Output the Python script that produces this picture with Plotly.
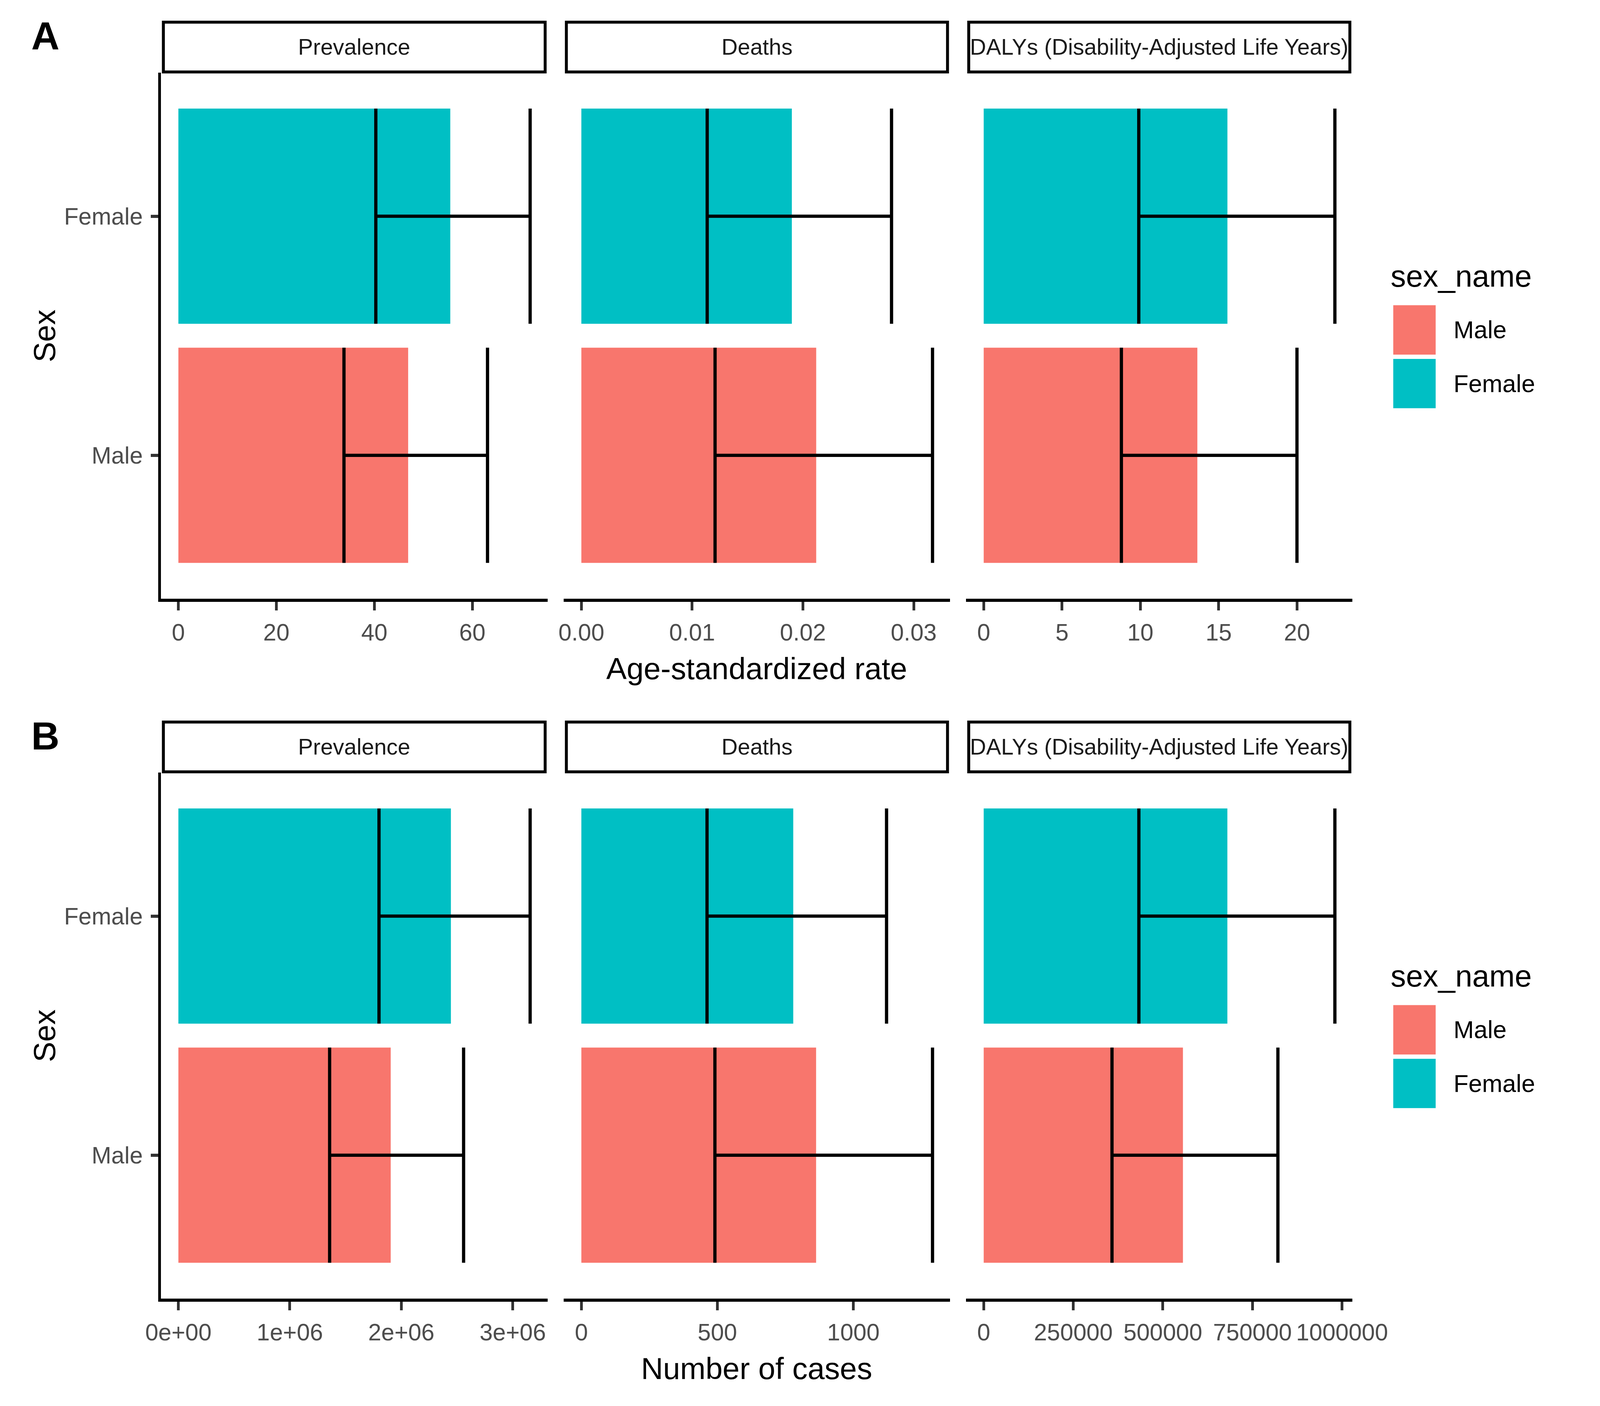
import plotly.graph_objects as go

# data
measures = ["Prevalence", "Deaths", "DALYs (Disability-Adjusted Life Years)"]
sexes = ["Male", "Female"]

# panel A: age-standardized rates (Prevalence, Deaths, DALYs)
rate_val_male = [46.9, 0.0212, 13.64]
rate_val_female = [55.5, 0.0190, 15.56]
rate_low_male = [33.8, 0.01207, 8.79]
rate_low_female = [40.3, 0.01136, 9.90]
rate_up_male = [63.1, 0.0317, 20.0]
rate_up_female = [71.8, 0.0280, 22.42]

# panel B: number of cases
num_val_male = [1.905e6, 863, 556000]
num_val_female = [2.445e6, 779, 680000]
num_low_male = [1.357e6, 491, 358000]
num_low_female = [1.80e6, 462, 433000]
num_up_male = [2.559e6, 1291, 821000]
num_up_female = [3.156e6, 1122, 980000]

# x tick labels per panel
rate_tickvals = [[0, 20, 40, 60], [0, 0.01, 0.02, 0.03], [0, 5, 10, 15, 20]]
rate_ticktext = [["0", "20", "40", "60"], ["0.00", "0.01", "0.02", "0.03"],
                 ["0", "5", "10", "15", "20"]]
num_tickvals = [[0, 1e6, 2e6, 3e6], [0, 500, 1000], [0, 250000, 500000, 750000, 1000000]]
num_ticktext = [["0e+00", "1e+06", "2e+06", "3e+06"], ["0", "500", "1000"],
                ["0", "250000", "500000", "750000", "1000000"]]

colors = {"Male": "#F8766D", "Female": "#00BFC4"}

# layout is measured on a 4800x3600 canvas, drawn into the browser's 4096 px wide page
REF_W, REF_H = 4800, 3600
W, H = 4080, 3584
sx, sy = W / REF_W, H / REF_H
fs = 0.87  # font scale
FONT = "Liberation Sans"

panel_x = [(442, 1646), (1696, 2898), (2948, 4150)]
row_off = [0, 1800]
panel_top, panel_bot = 179, 1532
strip_top = 45


def px(x):
    return x / REF_W


def py(y):
    return 1 - y / REF_H


rows = [
    dict(label="A", title="Age-standardized rate",
         val={"Male": rate_val_male, "Female": rate_val_female},
         low={"Male": rate_low_male, "Female": rate_low_female},
         up={"Male": rate_up_male, "Female": rate_up_female},
         tv=rate_tickvals, tt=rate_ticktext),
    dict(label="B", title="Number of cases",
         val={"Male": num_val_male, "Female": num_val_female},
         low={"Male": num_low_male, "Female": num_low_female},
         up={"Male": num_up_male, "Female": num_up_female},
         tv=num_tickvals, tt=num_ticktext),
]

fig = go.Figure()
layout = {}
shapes = []
annotations = []

bar_px = (panel_bot - panel_top) * sy / 2.2 * 0.9
tick_font = dict(family=FONT, size=72 * 0.84, color="#4D4D4D")

n = 0
for r, row in enumerate(rows):
    off = row_off[r]
    for c in range(3):
        n += 1
        sfx = "" if n == 1 else str(n)
        for s in sexes:
            v = row["val"][s][c]
            fig.add_trace(go.Bar(
                x=[v], y=[s], orientation="h", width=0.9,
                marker=dict(color=colors[s], line=dict(width=0)),
                error_x=dict(type="data", symmetric=False,
                             array=[row["up"][s][c] - v],
                             arrayminus=[v - row["low"][s][c]],
                             color="black", thickness=8.3, width=bar_px / 2),
                xaxis="x" + sfx, yaxis="y" + sfx, showlegend=False,
            ))
        hi = max(row["up"]["Male"][c], row["up"]["Female"][c])
        layout["xaxis" + sfx] = dict(
            domain=[px(panel_x[c][0]), px(panel_x[c][1])],
            anchor="y" + sfx, range=[-0.05 * hi, 1.05 * hi],
            showgrid=False, zeroline=False, showline=True,
            linecolor="black", linewidth=8,
            ticks="outside", ticklen=22, tickwidth=7, tickcolor="#333333",
            tickvals=row["tv"][c], ticktext=row["tt"][c],
            tickfont=tick_font, ticklabelstandoff=4,
        )
        layout["yaxis" + sfx] = dict(
            domain=[py(panel_bot + off), py(panel_top + off)],
            anchor="x" + sfx, type="category",
            categoryorder="array", categoryarray=sexes,
            range=[-0.6, 1.6], showgrid=False, zeroline=False,
            showline=(c == 0), linecolor="black", linewidth=7,
            ticks="outside" if c == 0 else "", ticklen=19, tickwidth=8,
            tickcolor="#333333", showticklabels=(c == 0),
            tickfont=tick_font, ticklabelstandoff=8,
        )
        # facet strip
        shapes.append(dict(type="rect", xref="paper", yref="paper",
                           x0=px(panel_x[c][0] + 8), x1=px(panel_x[c][1] - 8),
                           y0=py(panel_top - 2 + off), y1=py(strip_top + 4 + off),
                           line=dict(color="black", width=7.5), fillcolor="white",
                           layer="below"))
        annotations.append(dict(text=measures[c], xref="paper", yref="paper",
                                x=px((panel_x[c][0] + panel_x[c][1]) / 2),
                                y=py((strip_top + panel_top) / 2 + off),
                                showarrow=False, xanchor="center", yanchor="middle",
                                font=dict(family=FONT, size=66 * fs, color="#1A1A1A")))

    # panel label, axis titles
    annotations.append(dict(text="<b>" + row["label"] + "</b>", xref="paper", yref="paper",
                            x=px(36), y=py(84 + off), showarrow=False,
                            xanchor="left", yanchor="middle",
                            font=dict(family=FONT, size=115 * fs, color="black")))
    annotations.append(dict(text=row["title"], xref="paper", yref="paper",
                            x=px((panel_x[0][0] + panel_x[2][1]) / 2), y=py(1712 + off),
                            showarrow=False, xanchor="center", yanchor="middle",
                            font=dict(family=FONT, size=90 * fs, color="black")))
    annotations.append(dict(text="Sex", xref="paper", yref="paper", textangle=-90,
                            x=px(80), y=py((panel_top + panel_bot) / 2 + off),
                            showarrow=False, xanchor="center", yanchor="middle",
                            font=dict(family=FONT, size=90 * fs, color="black")))

    # legend
    annotations.append(dict(text="sex_name", xref="paper", yref="paper",
                            x=px(4266), y=py(702 + off), showarrow=False,
                            xanchor="left", yanchor="middle",
                            font=dict(family=FONT, size=90 * fs, color="black")))
    for k, s in enumerate(sexes):
        top = 777 + k * 138 + off
        shapes.append(dict(type="rect", xref="paper", yref="paper",
                           x0=px(4277), x1=px(4409), y0=py(top + 127), y1=py(top),
                           line=dict(width=0), fillcolor=colors[s]))
        annotations.append(dict(text=s, xref="paper", yref="paper",
                                x=px(4462), y=py(top + 63), showarrow=False,
                                xanchor="left", yanchor="middle",
                                font=dict(family=FONT, size=72 * fs, color="black")))

fig.update_layout(
    width=W, height=H, autosize=False,
    margin=dict(l=0, r=0, t=0, b=0),
    paper_bgcolor="white", plot_bgcolor="white",
    barmode="overlay", showlegend=False,
    shapes=shapes, annotations=annotations,
    font=dict(family=FONT),
    **layout,
)

fig.write_html("out.html")
